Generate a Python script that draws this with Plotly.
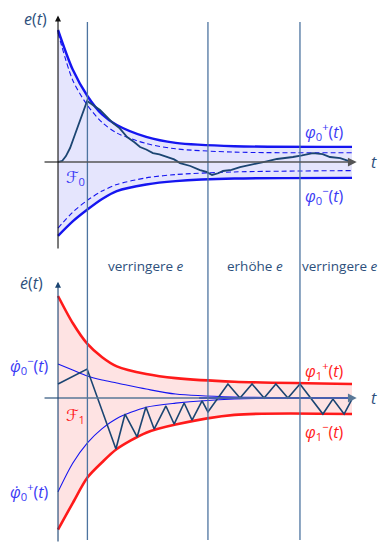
import plotly.graph_objects as go

# ── DATA ────────────────────────────────────────────────────────────────
# bounds sampled on a common time grid
T_GRID = [0, 0.5, 1, 1.5, 2, 3, 4, 6, 10]

# top panel: funnel for e(t)
PHI0_UP = [1.0, 0.70, 0.50, 0.36, 0.28, 0.19, 0.145, 0.12, 0.115]
PHI0_LO = [-0.56, -0.45, -0.36, -0.28, -0.22, -0.17, -0.145, -0.125, -0.12]
PHI0_UP_DASH = [0.98, 0.62, 0.43, 0.30, 0.22, 0.14, 0.10, 0.075, 0.07]
PHI0_LO_DASH = [-0.50, -0.38, -0.29, -0.22, -0.17, -0.12, -0.095, -0.075, -0.065]

# top panel: error trajectory
E_T = [0, 0.14, 0.27, 0.41, 0.58, 0.75, 0.99, 1.43, 1.87, 2.1, 2.35, 2.6, 2.79,
       3.0, 3.23, 3.45, 3.71, 3.95, 4.15, 4.5, 4.83, 5.05, 5.24, 5.45, 5.61,
       5.9, 6.19, 6.5, 6.77, 7.1, 7.45, 7.7, 7.99, 8.3, 8.67, 9.0, 9.25, 9.6, 10.0]
E_VAL = [0, 0.008, 0.045, 0.106, 0.21, 0.318, 0.462, 0.394, 0.295, 0.255, 0.189,
         0.15, 0.114, 0.095, 0.068, 0.058, 0.038, 0.02, -0.008, -0.03, -0.061,
         -0.075, -0.098, -0.085, -0.068, -0.06, -0.038, -0.025, -0.008, 0.005,
         0.023, 0.028, 0.038, 0.05, 0.068, 0.06, 0.038, 0.03, 0.0]

# bottom panel: funnel for de/dt
PHI1_UP = [1.0, 0.735, 0.53, 0.40, 0.31, 0.235, 0.195, 0.16, 0.137]
PHI1_LO = [-1.29, -1.03, -0.78, -0.63, -0.50, -0.34, -0.26, -0.165, -0.157]
DPHI0_MINUS = [0.333, 0.275, 0.216, 0.176, 0.147, 0.088, 0.039, 0.01, 0.0]
DPHI0_PLUS = [-0.92, -0.64, -0.44, -0.30, -0.20, -0.09, -0.05, -0.01, 0.0]
DPHI0_FLAT_T = [4.8, 10.0]
DPHI0_FLAT = [0.0, 0.0]

# bottom panel: derivative trajectory (zig-zag)
DE_T = [0, 0.99, 1.97, 2.28, 2.69, 2.99, 3.27, 3.67, 3.95, 4.29, 4.56, 4.90,
        5.10, 5.78, 6.19, 6.60, 7.01, 7.41, 7.82, 8.23, 9.01, 9.35, 9.73, 10.0]
DE_VAL = [0.137, 0.284, -0.50, -0.157, -0.382, -0.088, -0.304, -0.078, -0.255,
          -0.049, -0.216, -0.029, -0.137, 0.137, 0.0, 0.137, 0.0, 0.137, 0.0,
          0.137, -0.157, -0.01, -0.157, -0.01]

# switching instants
SWITCH_T = [1.0, 5.1, 8.23]
SWITCH_LABELS = ['verringere <i>e</i>', 'erhöhe <i>e</i>', 'verringere <i>e</i>']
SWITCH_LABEL_T = [3.0, 6.7, 9.6]

# ── STYLE ───────────────────────────────────────────────────────────────
BLUE = '#1515f0'
LBL_BLUE = '#3a3af5'
RED = '#ff1a1a'
NAVY = '#1b4572'
SLATE = '#2d4f7c'
VLINE = '#4d74a0'
FONT = 'Open Sans, DejaVu Sans, sans-serif'

# page body adds an 8px offset, so the figure is 379x536
W, H = 379, 536
X_RANGE = [-1.701, 11.19]
TOP_RANGE = [-0.780, 1.1667]
BOT_RANGE = [-1.431, 1.255]


def py(pix):
    """window pixel row -> paper fraction"""
    return (544 - pix) / H


fig = go.Figure()


def line(x, y, color, width, dash='solid', axis='', fill=None, fillcolor=None,
         shape='spline'):
    fig.add_trace(go.Scatter(
        x=x, y=y, mode='lines', xaxis='x' + axis, yaxis='y' + axis,
        line=dict(color=color, width=width, dash=dash, shape=shape,
                  smoothing=0.8),
        fill=fill, fillcolor=fillcolor, showlegend=False, hoverinfo='skip'))


# top funnel fill
line(T_GRID, PHI0_LO, 'rgba(0,0,0,0)', 0)
line(T_GRID, PHI0_UP, 'rgba(0,0,0,0)', 0, fill='tonexty',
     fillcolor='rgba(40,40,240,0.12)')
# bottom funnel fill
line(T_GRID, PHI1_LO, 'rgba(0,0,0,0)', 0, axis='2')
line(T_GRID, PHI1_UP, 'rgba(0,0,0,0)', 0, axis='2', fill='tonexty',
     fillcolor='rgba(250,40,40,0.13)')


# ── AXES (arrows) ───────────────────────────────────────────────────────
def arrow(x0, y0, x1, y1, color, width, axis=''):
    fig.add_annotation(x=x1, y=y1, ax=x0, ay=y0, xref='x' + axis,
                       yref='y' + axis, axref='x' + axis, ayref='y' + axis,
                       showarrow=True, arrowhead=2, arrowsize=1.1,
                       arrowwidth=width, arrowcolor=color, text='')


arrow(-0.51, 0, 10.16, 0, '#555555', 1.6)
arrow(0, -0.667, 0, 1.11, '#111111', 1.1)
arrow(-0.51, 0, 10.16, 0, '#5a7898', 1.6, axis='2')
arrow(0, -1.42, 0, 1.14, NAVY, 1.1, axis='2')

# top curves
line(T_GRID, PHI0_UP_DASH, BLUE, 1.1, dash='5px,3px')
line(T_GRID, PHI0_LO_DASH, BLUE, 1.1, dash='5px,3px')
line(T_GRID, PHI0_UP, BLUE, 2.4)
line(T_GRID, PHI0_LO, BLUE, 2.4)
line(E_T, E_VAL, NAVY, 1.8, shape='linear')

# bottom curves
line(T_GRID, PHI1_UP, RED, 2.6, axis='2')
line(T_GRID, PHI1_LO, RED, 2.6, axis='2')
line(T_GRID, DPHI0_MINUS, BLUE, 1.1, axis='2')
line(T_GRID, DPHI0_PLUS, BLUE, 1.1, axis='2')
line(DPHI0_FLAT_T, DPHI0_FLAT, BLUE, 2.2, axis='2', shape='linear')
line(DE_T, DE_VAL, NAVY, 1.6, axis='2', shape='linear')

# switching lines through both panels
for t in SWITCH_T:
    fig.add_shape(type='line', xref='x', yref='paper', x0=t, x1=t,
                  y0=py(540), y1=py(22),
                  line=dict(color=VLINE, width=1.3))


# ── TEXT ────────────────────────────────────────────────────────────────
def label(x, y, text, color, size=16, axis='', yref=None):
    fig.add_annotation(x=x, y=y, xref='x' + axis, yref=yref or 'y' + axis,
                       text=text, showarrow=False,
                       font=dict(family=FONT, size=size, color=color))


label(-0.75, 1.085, '<i>e</i>(<i>t</i>)', SLATE)
label(10.75, 0.0, '<i>t</i>', SLATE)
label(9.05, 0.23, '<i>φ</i><sub>0</sub><sup>+</sup>(<i>t</i>)', LBL_BLUE)
label(9.05, -0.25, '<i>φ</i><sub>0</sub><sup>−</sup>(<i>t</i>)', LBL_BLUE)
label(0.6, -0.115, '<i>ℱ</i><sub>0</sub>', LBL_BLUE)

for t, txt in zip(SWITCH_LABEL_T, SWITCH_LABELS):
    label(t, py(266), txt, SLATE, size=13.5, yref='paper')

label(-0.9, 1.13, '<i>ė</i>(<i>t</i>)', SLATE, axis='2')
label(10.75, 0.0, '<i>t</i>', SLATE, axis='2')
label(-0.98, 0.32, '<i>φ̇</i><sub>0</sub><sup>−</sup>(<i>t</i>)', LBL_BLUE, axis='2')
label(-0.98, -0.92, '<i>φ̇</i><sub>0</sub><sup>+</sup>(<i>t</i>)', LBL_BLUE, axis='2')
label(0.6, -0.17, '<i>ℱ</i><sub>1</sub>', RED, axis='2')
label(9.05, 0.27, '<i>φ</i><sub>1</sub><sup>+</sup>(<i>t</i>)', RED, axis='2')
label(9.05, -0.33, '<i>φ</i><sub>1</sub><sup>−</sup>(<i>t</i>)', RED, axis='2')

# ── LAYOUT ──────────────────────────────────────────────────────────────
hidden = dict(visible=False, showgrid=False, zeroline=False, fixedrange=True)
fig.update_layout(
    width=W, height=H,
    margin=dict(l=0, r=0, t=0, b=0),
    paper_bgcolor='white', plot_bgcolor='rgba(0,0,0,0)',
    showlegend=False,
    xaxis=dict(range=X_RANGE, anchor='y', **hidden),
    yaxis=dict(range=TOP_RANGE, domain=[py(265), py(8)], **hidden),
    xaxis2=dict(range=X_RANGE, anchor='y2', matches='x', **hidden),
    yaxis2=dict(range=BOT_RANGE, domain=[0, py(270)], **hidden),
)

fig.write_html('out.html')
